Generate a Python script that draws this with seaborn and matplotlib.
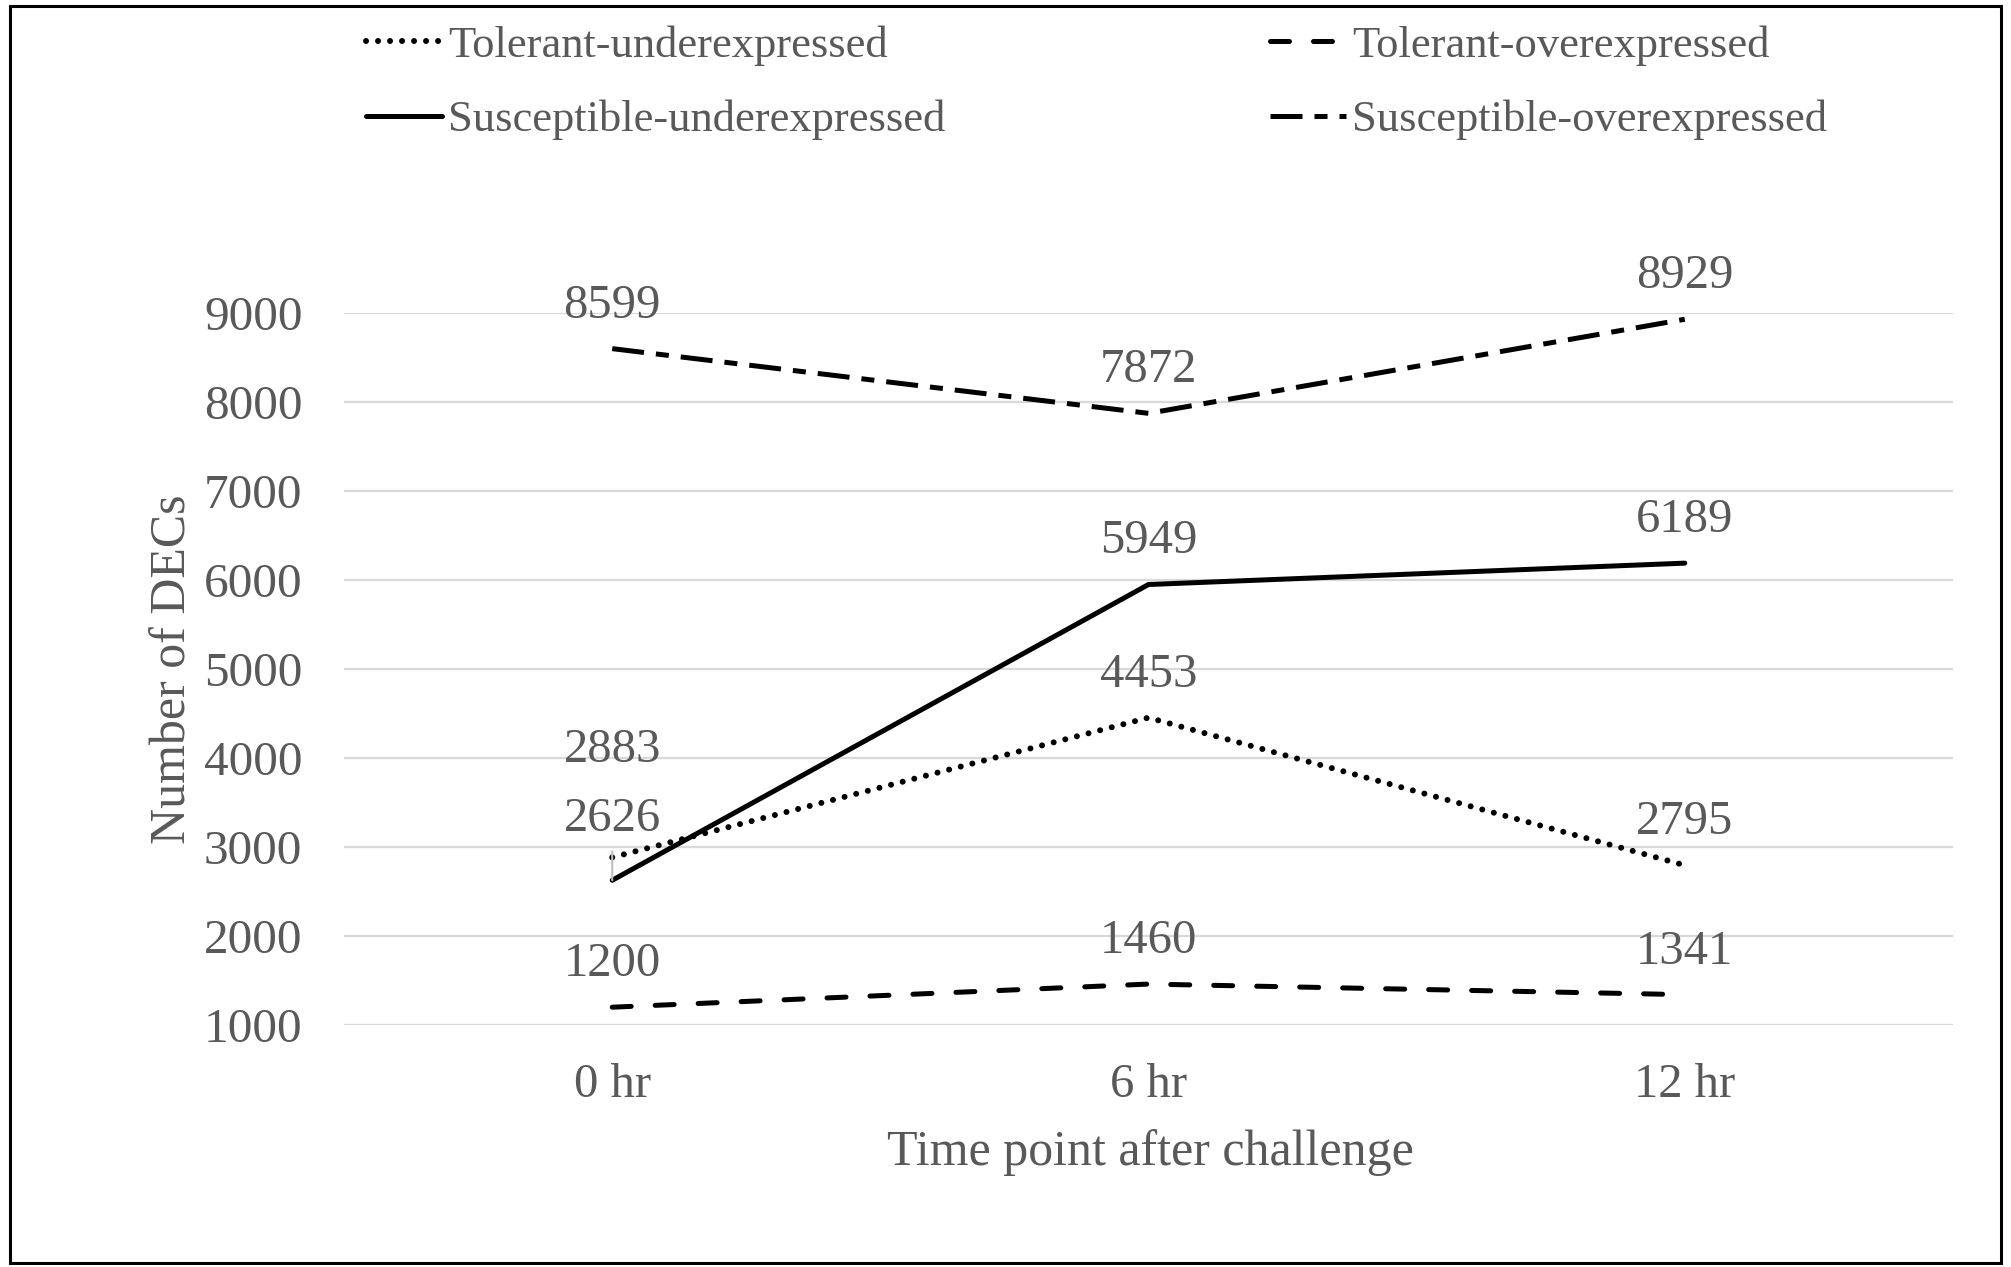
import pandas as pd
import matplotlib.pyplot as plt
import matplotlib.patches as mpatches
import seaborn as sns

TIME_LABELS = ["0 hr", "6 hr", "12 hr"]
SERIES = ["Tolerant-underexpressed", "Susceptible-underexpressed",
          "Tolerant-overexpressed", "Susceptible-overexpressed"]
TOL_UNDER = [2883, 4453, 2795]
SUS_UNDER = [2626, 5949, 6189]
TOL_OVER = [1200, 1460, 1341]
SUS_OVER = [8599, 7872, 8929]
Y_TICKS = [1000, 2000, 3000, 4000, 5000, 6000, 7000, 8000, 9000]

GREY_TEXT = "#595959"
GRID = "#d9d9d9"
LW = 3.6

sns.set_theme(style="white")
plt.rcParams["font.family"] = ["Liberation Serif", "DejaVu Serif"]

df = pd.DataFrame({
    "time": TIME_LABELS * 4,
    "count": TOL_UNDER + SUS_UNDER + TOL_OVER + SUS_OVER,
    "series": [s for s in SERIES for _ in TIME_LABELS],
})

# per-series: dash pattern (in linewidth units), cap style, width
styles = {
    "Tolerant-underexpressed":    ((0, (0.01, 2.0)), "round", 4.3),
    "Susceptible-underexpressed": ("-", "round", LW),
    "Tolerant-overexpressed":     ((0, (3.8, 4.8)), "round", LW),
    "Susceptible-overexpressed":  ((0, (6.4, 2.4, 2.6, 2.4)), "butt", LW),
}

fig = plt.figure(figsize=(20.11, 12.67), dpi=100)
ax = fig.add_axes([0.1711, 0.191, 0.800, 0.562])

handles = []
for name in SERIES:
    ls, cap, lw = styles[name]
    sub = df[df["series"] == name]
    sns.lineplot(data=sub, x="time", y="count", ax=ax, color="black",
                 linewidth=lw, linestyle=ls, dash_capstyle=cap,
                 solid_capstyle="round", sort=False, zorder=3, label=name)
    handles.append(ax.get_lines()[-1])
ax.get_legend().remove()

ax.set_xlim(-0.5, len(TIME_LABELS) - 0.5)
ax.set_ylim(Y_TICKS[0], Y_TICKS[-1])
ax.set_yticks(Y_TICKS)
ax.set_yticklabels([str(v) for v in Y_TICKS])
for y in Y_TICKS:
    ax.axhline(y, color=GRID, linewidth=1.6, zorder=1)
for s in ax.spines.values():
    s.set_visible(False)
ax.tick_params(axis="y", length=0, pad=30, labelsize=35.5, labelcolor=GREY_TEXT)
ax.tick_params(axis="x", length=0, pad=27, labelsize=35, labelcolor=GREY_TEXT)
ax.set_xlabel("")
ax.set_ylabel("")

# data labels above points (two at 0 hr moved up to avoid overlap)
offsets = {("Tolerant-underexpressed", 0): 77,
           ("Susceptible-underexpressed", 0): 44}
values = {"Tolerant-underexpressed": TOL_UNDER,
          "Susceptible-underexpressed": SUS_UNDER,
          "Tolerant-overexpressed": TOL_OVER,
          "Susceptible-overexpressed": SUS_OVER}
for name, vals in values.items():
    for i, v in enumerate(vals):
        off = offsets.get((name, i), 31)
        arrow = None
        if (name, i) == ("Susceptible-underexpressed", 0):
            arrow = dict(arrowstyle="-", color="#bfbfbf", lw=1.5,
                         shrinkA=5, shrinkB=0)
        ax.annotate(str(v), xy=(i, v), xytext=(0, off),
                    textcoords="offset points", ha="center", va="center",
                    fontsize=35, color=GREY_TEXT, arrowprops=arrow, zorder=4)

fig.text(0.5723, 0.0805, "Time point after challenge", ha="center",
         va="baseline", fontsize=36, color=GREY_TEXT)
fig.text(0.086, 0.472, "Number of DECs", ha="center", va="center",
         rotation=90, fontsize=36, color=GREY_TEXT)

fig.legend(handles=handles, labels=SERIES, ncol=2, loc="upper left",
           bbox_to_anchor=(0.182, 0.980), frameon=False, fontsize=32,
           handlelength=1.7, handletextpad=0.15, columnspacing=7.3,
           labelspacing=0.76, borderpad=0, borderaxespad=0,
           labelcolor=GREY_TEXT)

fig.patches.append(mpatches.Rectangle((0.005, 0.003), 0.99, 0.992,
                                      transform=fig.transFigure, fill=False,
                                      edgecolor="black", linewidth=2.2))

fig.savefig("out.png", dpi=100, facecolor="white")
